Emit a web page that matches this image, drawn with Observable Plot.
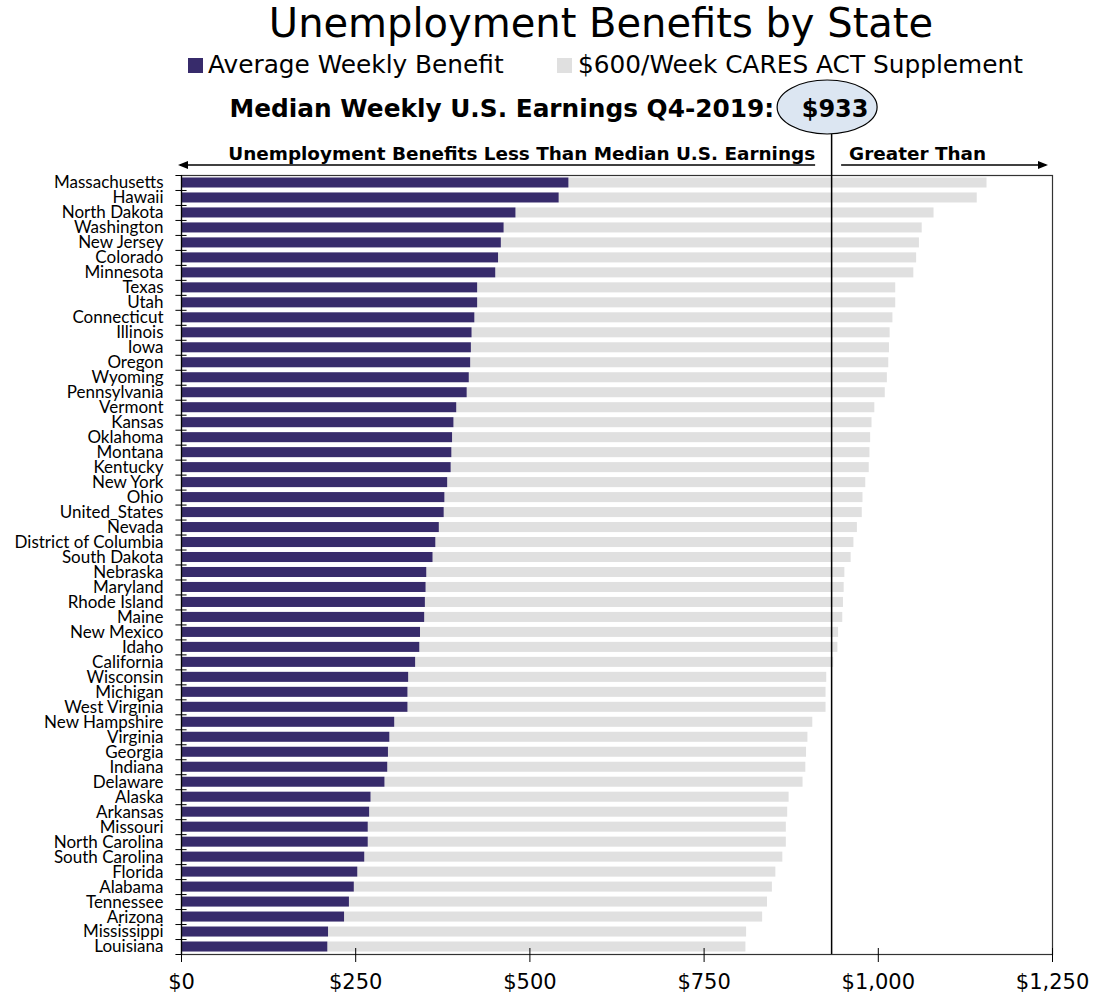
<!DOCTYPE html>
<html><head><meta charset="utf-8">
<script src="https://cdn.jsdelivr.net/npm/d3@7"></script>
<script src="https://cdn.jsdelivr.net/npm/@observablehq/plot@0.6"></script>
<style>body{margin:0;background:#fff}</style>
</head><body><div id="chart"></div>
<script>
const states = ["Massachusetts","Hawaii","North Dakota","Washington","New Jersey","Colorado","Minnesota","Texas","Utah","Connecticut","Illinois","Iowa","Oregon","Wyoming","Pennsylvania","Vermont","Kansas","Oklahoma","Montana","Kentucky","New York","Ohio","United_States","Nevada","District of Columbia","South Dakota","Nebraska","Maryland","Rhode Island","Maine","New Mexico","Idaho","California","Wisconsin","Michigan","West Virginia","New Hampshire","Virginia","Georgia","Indiana","Delaware","Alaska","Arkansas","Missouri","North Carolina","South Carolina","Florida","Alabama","Tennessee","Arizona","Mississippi","Louisiana"];
const benefits = [556,542,480,463,459,455,451,425,425,421,417,416,415,413,410,395,391,389,388,387,382,378,377,370,365,361,352,351,350,349,343,342,336,326,325,325,306,299,297,296,292,272,270,268,268,263,253,248,241,234,211,210];
const supplement = 600;
const medianEarnings = 933;
const xTicks = [0,250,500,750,1000,1250];
const titleText = "Unemployment Benefits by State";
const legendLabels = ["Average Weekly Benefit","$600/Week CARES ACT Supplement"];
const medianLabel = "Median Weekly U.S. Earnings Q4-2019:";
const lessLabel = "Unemployment Benefits Less Than Median U.S. Earnings";
const greaterLabel = "Greater Than";
const darkColor = "#372b6b", lightColor = "#e0e0e0";

const data = states.map((s,i)=>({state:s, benefit:benefits[i], total:benefits[i]+supplement}));

const W=1094, H=995, mt=175, mb=41, ml=181, mr=42;
const plotH = H-mt-mb;
const step = plotH/states.length;
const fmt = d => "$" + d3.format(",")(d);

const plot = Plot.plot({
  width:W, height:H, marginTop:mt, marginBottom:mb, marginLeft:ml, marginRight:mr,
  style:{background:"#fff", overflow:"visible", fontFamily:"DejaVu Sans, sans-serif", color:"#000"},
  x:{domain:[0,1250], label:null},
  y:{domain:states, paddingInner:0.33, paddingOuter:0.165, label:null},
  marks:[
    Plot.ruleY(states, {y:d=>d, x1:-8, x2:8, dy: step/2, stroke:"#000"}),
    Plot.ruleY(states.slice(0,1), {y:d=>d, x1:-8, x2:8, dy:-step/2, stroke:"#000"}),
    Plot.barX(data, {y:"state", x1:"benefit", x2:"total", fill:lightColor}),
    Plot.barX(data, {y:"state", x1:0, x2:"benefit", fill:darkColor}),
    Plot.frame({stroke:"#333", strokeWidth:1.2}),
    Plot.ruleX([0], {stroke:"#000", strokeWidth:1.2}),
    Plot.ruleX(xTicks, {insetTop: plotH-6, insetBottom:-8, stroke:"#000"}),
    Plot.ruleX([medianEarnings], {insetTop:-41, stroke:"#000", strokeWidth:1.5}),
    Plot.axisX({ticks:xTicks, tickSize:0, tickPadding:20, tickFormat:fmt, fontSize:21, fontFamily:"DejaVu Sans, sans-serif", fill:"#000"}),
    Plot.axisY({tickSize:0, tickPadding:18, fontSize:17, fontFamily:"Lato, sans-serif", fill:"#000"})
  ]
});
document.getElementById("chart").appendChild(plot);

const svg = d3.select(plot);
const xs = plot.scale("x");
const mx = xs.apply(medianEarnings);
const g = svg.append("g").attr("font-family","DejaVu Sans, Verdana, sans-serif").attr("fill","#000").attr("text-anchor","start");
g.append("text").attr("x",601).attr("y",37).attr("text-anchor","middle").attr("font-size",40).text(titleText);
// legend
g.append("rect").attr("x",188).attr("y",58).attr("width",15).attr("height",15).attr("fill",darkColor);
g.append("text").attr("x",208).attr("y",73).attr("text-anchor","start").attr("font-size",24.8).text(legendLabels[0]);
g.append("rect").attr("x",557).attr("y",58).attr("width",15).attr("height",15).attr("fill",lightColor);
g.append("text").attr("x",578).attr("y",73).attr("text-anchor","start").attr("font-size",24.8).text(legendLabels[1]);
// median label
g.append("text").attr("x",mx-57).attr("y",117).attr("text-anchor","end").attr("font-size",24.8).attr("font-weight","bold").text(medianLabel);
g.append("ellipse").attr("cx",mx-4).attr("cy",107).attr("rx",50).attr("ry",27).attr("fill","#dce6f2").attr("stroke","#000").attr("stroke-width",1.2);
g.append("text").attr("x",mx+4).attr("y",117).attr("text-anchor","middle").attr("font-size",24).attr("font-weight","bold").text(fmt(medianEarnings));
// arrows
const ay = 165;
g.append("line").attr("x1",ml-1).attr("x2",mx-16).attr("y1",ay).attr("y2",ay).attr("stroke","#000").attr("stroke-width",1.5);
g.append("path").attr("d",`M${ml-3},${ay}L${ml+7},${ay-4}L${ml+7},${ay+4}Z`).attr("fill","#000");
g.append("line").attr("x1",mx+10).attr("x2",W-mr-6).attr("y1",ay).attr("y2",ay).attr("stroke","#000").attr("stroke-width",1.5);
g.append("path").attr("d",`M${W-mr-4},${ay}L${W-mr-14},${ay-4}L${W-mr-14},${ay+4}Z`).attr("fill","#000");
g.append("text").attr("x",mx-16).attr("y",160).attr("text-anchor","end").attr("font-size",18.4).attr("font-weight","bold").text(lessLabel);
g.append("text").attr("x",mx+18).attr("y",160).attr("text-anchor","start").attr("font-size",18.4).attr("font-weight","bold").text(greaterLabel);
</script></body></html>
